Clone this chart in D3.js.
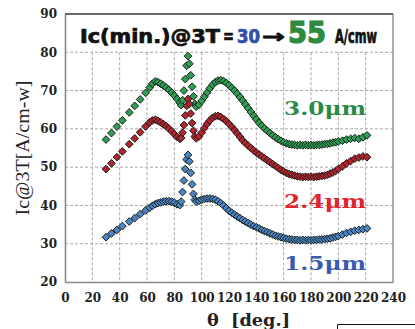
<!DOCTYPE html>
<html><head><meta charset="utf-8">
<script src="https://cdn.jsdelivr.net/npm/d3@7"></script>
<style>body{margin:0;background:#fff}svg{display:block}</style>
</head><body>
<script>
const theta = [30,34,38,42,47,51,55,59,
62,64,66,68,70,72,74,76,78,80,82,84,
85,86,87,88,89,90,91,92,93,94,95,96,
98,100,102,104,106,108,110,112,114,116,118,120,122,124,126,128,130,132,134,136,
138,140,142,144,146,148,150,152,154,156,158,160,162,164,166,168,170,172,174,176,
178,180,182,184,186,188,190,192,194,196,198,200,
203,206,209,212,215,218,221];

const ic30 = [57.2,58.9,60.6,62.2,64.3,66.0,67.7,69.4,
70.8,71.8,72.4,72.2,71.8,71.3,70.8,70.2,69.5,68.7,67.8,66.8,
66.2,67.5,70.0,73.0,76.5,79.0,77.0,74.0,71.0,68.5,66.5,65.8,
66.3,67.3,68.4,69.5,70.6,71.5,72.2,72.6,72.7,72.5,72.0,71.4,70.7,70.0,69.2,68.3,67.4,66.4,65.4,64.4,
63.4,62.5,61.6,60.8,60.1,59.5,58.9,58.3,57.8,57.3,56.9,56.5,56.2,56.0,55.9,55.8,55.7,55.8,55.7,55.8,
55.7,55.8,55.7,55.8,55.8,55.9,56.0,56.1,56.2,56.4,56.5,56.7,
56.9,57.2,57.4,57.6,57.4,57.8,58.3];

const ic24 = [49.5,51.0,52.6,54.1,56.0,57.5,59.1,60.6,
61.7,62.2,62.4,62.1,61.7,61.2,60.7,60.1,59.4,58.6,57.9,57.4,
57.6,59.0,61.0,63.5,66.0,67.8,66.5,64.0,61.5,59.5,58.0,57.5,
58.0,59.0,60.2,61.3,62.2,62.9,63.3,63.4,63.1,62.6,62.0,61.3,60.5,59.7,58.8,57.9,57.0,56.3,55.6,55.0,
54.4,53.8,53.3,52.8,52.3,51.8,51.3,50.8,50.3,49.8,49.3,48.9,48.5,48.2,48.0,47.8,47.6,47.5,47.4,47.5,
47.4,47.5,47.4,47.5,47.6,47.7,47.8,48.0,48.3,48.6,49.0,49.5,
50.2,51.0,51.6,52.2,52.5,52.8,52.6];

const ic15 = [31.7,32.7,33.6,34.6,35.8,36.7,37.7,38.7,
39.4,39.9,40.3,40.6,40.8,41.0,41.1,41.1,41.0,40.7,40.3,40.1,
41.0,43.5,46.5,49.5,52.0,53.2,51.5,48.5,45.5,43.0,41.5,41.0,
41.2,41.5,41.7,41.8,41.8,41.7,41.5,41.1,40.6,40.0,39.3,38.6,38.1,37.6,37.1,36.7,36.2,35.8,35.4,35.0,
34.6,34.3,34.0,33.6,33.3,33.0,32.7,32.4,32.1,31.9,31.7,31.5,31.3,31.2,31.1,31.0,31.0,30.9,31.0,30.9,
31.0,30.9,31.0,31.0,31.1,31.1,31.2,31.3,31.4,31.6,31.8,32.0,
32.4,32.8,33.1,33.4,33.6,33.8,34.0];

const seriesNames = ["3.0\u03bcm","2.4\u03bcm","1.5\u03bcm"];
const xTicks = [0,20,40,60,80,100,120,140,160,180,200,220,240];
const yTicks = [20,30,40,50,60,70,80,90];

const W = 415, H = 329;
const svg = d3.select("body").append("svg").attr("width", W).attr("height", H);
const x = d3.scaleLinear().domain([0,240]).range([65,393]);
const y = d3.scaleLinear().domain([20,90]).range([282,14]);

// grid
const g = svg.append("g");
g.selectAll(".vg").data(xTicks.filter(t => t > 0 && t < 240)).join("line")
  .attr("x1", d => x(d)).attr("x2", d => x(d)).attr("y1", y(80)).attr("y2", y(20))
  .attr("stroke", "#a8a8a8").attr("stroke-dasharray", "3,2").attr("stroke-width", 1);
g.selectAll(".hg").data(yTicks.filter(t => t > 20 && t < 90)).join("line")
  .attr("x1", x(0)).attr("x2", x(240)).attr("y1", d => y(d)).attr("y2", d => y(d))
  .attr("stroke", "#a8a8a8").attr("stroke-dasharray", "3,2").attr("stroke-width", 1);

// frame
svg.append("line").attr("x1", x(0)).attr("x2", x(240)).attr("y1", y(90)).attr("y2", y(90)).attr("stroke", "#333").attr("stroke-width", 1.5);
svg.append("line").attr("x1", x(240)).attr("x2", x(240)).attr("y1", y(90)).attr("y2", y(20)).attr("stroke", "#777").attr("stroke-width", 1.2);

// axes
const xAxis = svg.append("g").attr("transform", `translate(0,${y(20)})`)
  .call(d3.axisBottom(x).tickValues(xTicks).tickSize(0).tickPadding(11).tickFormat(d3.format("d")));
const yAxis = svg.append("g").attr("transform", `translate(${x(0)},0)`)
  .call(d3.axisLeft(y).tickValues(yTicks).tickSize(0).tickPadding(8).tickFormat(d3.format("d")));
[xAxis, yAxis].forEach(a => {
  a.select(".domain").attr("stroke", "#888").attr("stroke-width", 1.6);
  a.selectAll("text").attr("font-family", "'DejaVu Serif', serif").attr("font-weight", "bold")
    .attr("font-size", 12).attr("fill", "#222");
});

// markers
const colors = ["#2f9e55", "#b22430", "#4d84c4"];
const sets = [ic30, ic24, ic15];
const sym = d3.symbol().type(d3.symbolSquare).size(30);
sets.forEach((vals, i) => {
  svg.append("g").selectAll("path").data(theta.map((t, j) => [t, vals[j]])).join("path")
    .attr("d", sym)
    .attr("transform", d => `translate(${x(d[0])},${y(d[1])}) rotate(45)`)
    .attr("fill", colors[i]).attr("stroke", "#141a14").attr("stroke-width", 0.9);
});

// title
const tf = "'Liberation Sans Narrow','DejaVu Sans Condensed','Liberation Sans',sans-serif";
const tparts = [
  {t: "Ic(min.)@3T", x: 80, w: 140, c: "#111", s: 19},
  {t: "=", x: 223, w: 11, c: "#111", s: 19},
  {t: "30", x: 237, w: 23, c: "#2f4fa8", s: 19},
  {t: "\u2192", x: 262, w: 23, c: "#111", s: 19},
  {t: "55", x: 288, w: 38, c: "#2e8b3e", s: 30},
  {t: "A/cmw", x: 335, w: 42, c: "#111", s: 19}
];
tparts.forEach(p => {
  svg.append("text").attr("x", p.x).attr("y", 43).text(p.t)
    .attr("font-family", tf).attr("font-weight", "bold").attr("font-size", p.s)
    .attr("fill", p.c).attr("stroke", p.c).attr("stroke-width", p.s > 20 ? 1.2 : 0.7)
    .attr("textLength", p.w).attr("lengthAdjust", "spacingAndGlyphs");
});

// series labels
const labels = [
  {t: seriesNames[0], y: 115, c: "#2a8a48"},
  {t: seriesNames[1], y: 208, c: "#e02530"},
  {t: seriesNames[2], y: 270, c: "#3a5cae"}
];
labels.forEach(l => {
  svg.append("text").attr("x", 284).attr("y", l.y).text(l.t)
    .attr("font-family", "'DejaVu Serif', serif").attr("font-weight", "bold").attr("font-size", 19)
    .attr("fill", l.c).attr("textLength", 82).attr("lengthAdjust", "spacingAndGlyphs");
});

// axis titles
svg.append("text").attr("transform", "translate(29,148) rotate(-90)").attr("text-anchor", "middle")
  .text("Ic@3T[A/cm-w]").attr("font-family", "'Liberation Serif', serif").attr("font-size", 19)
  .attr("fill", "#222").attr("textLength", 135).attr("lengthAdjust", "spacingAndGlyphs");
svg.append("text").attr("x", 207).attr("y", 326).text("\u03b8  [deg.]").attr("xml:space", "preserve")
  .style("white-space", "pre")
  .attr("font-family", "'DejaVu Serif', serif").attr("font-weight", "bold").attr("font-size", 16)
  .attr("fill", "#222").attr("textLength", 83).attr("lengthAdjust", "spacingAndGlyphs");

// corner box
svg.append("path").attr("d", `M337.5,${H}V324.5H${W}`).attr("fill", "none").attr("stroke", "#111").attr("stroke-width", 1);
</script>
</body></html>
